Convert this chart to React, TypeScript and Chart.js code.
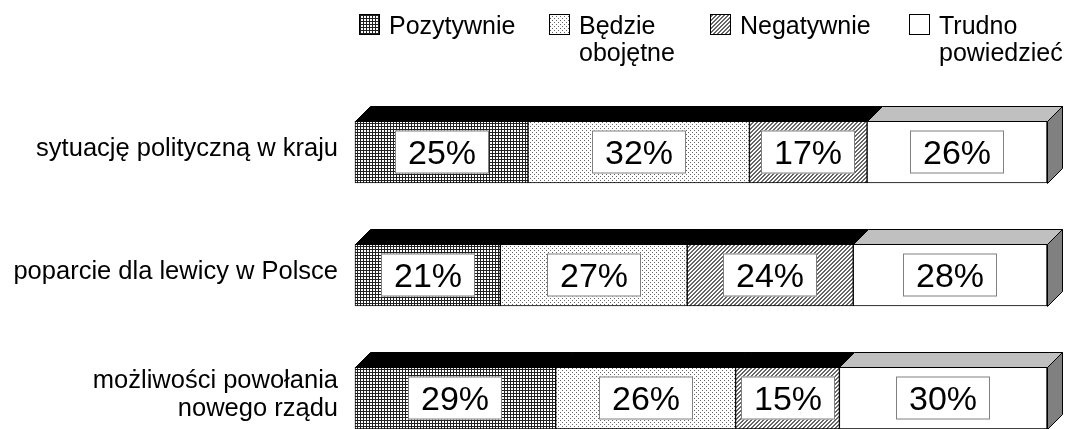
import React, { useEffect, useRef } from "react";
import { Chart, registerables } from "chart.js";

Chart.register(...registerables);

const categories: (string | string[])[] = [
  "sytuację polityczną w kraju",
  "poparcie dla lewicy w Polsce",
  ["możliwości powołania", "nowego rządu"],
];
const seriesNames = ["Pozytywnie", "Będzie\nobojętne", "Negatywnie", "Trudno\npowiedzieć"];
const pozytywnie = [25, 21, 29];
const obojetne = [32, 27, 26];
const negatywnie = [17, 24, 15];
const trudno = [26, 28, 30];

const FONT = "'Liberation Sans', Arial, sans-serif";
const DEPTH = 15;

function makePattern(kind: string): CanvasPattern | string {
  const c = document.createElement("canvas");
  const g = c.getContext("2d")!;
  if (kind === "grid") {
    c.width = 3; c.height = 3;
    g.fillStyle = "#fff"; g.fillRect(0, 0, 3, 3);
    g.fillStyle = "#222"; g.fillRect(0, 0, 3, 1); g.fillRect(0, 0, 1, 3);
  } else if (kind === "dots") {
    c.width = 4; c.height = 4;
    g.fillStyle = "#fff"; g.fillRect(0, 0, 4, 4);
    g.fillStyle = "#666"; g.fillRect(0, 0, 1, 1); g.fillRect(2, 2, 1, 1);
  } else if (kind === "diag") {
    c.width = 4; c.height = 4;
    g.fillStyle = "#fff"; g.fillRect(0, 0, 4, 4);
    g.fillStyle = "#666";
    for (let i = 0; i < 4; i++) { g.fillRect(i, 3 - i, 1, 1); g.fillRect(i, (6 - i) % 4, 1, 1); }
  } else {
    return "#ffffff";
  }
  return g.createPattern(c, "repeat")!;
}

const depthPlugin = {
  id: "depth3d",
  afterDatasetsDraw(chart: any) {
    const ctx = chart.ctx as CanvasRenderingContext2D;
    const n = chart.data.labels.length;
    const nds = chart.data.datasets.length;
    ctx.save();
    for (let i = 0; i < n; i++) {
      const bars = [] as any[];
      for (let d = 0; d < nds; d++) {
        const el = chart.getDatasetMeta(d).data[i];
        bars.push(el.getProps(["x", "y", "base", "height"], true));
      }
      for (let d = 0; d < nds; d++) {
        const b = bars[d];
        const top = Math.round(b.y - b.height / 2) + 0.5;
        const x0 = Math.round(b.base) + 0.5;
        const x1 = Math.round(b.x) + 0.5;
        ctx.beginPath();
        ctx.moveTo(x0, top);
        ctx.lineTo(x1, top);
        ctx.lineTo(x1 + DEPTH, top - DEPTH);
        ctx.lineTo(x0 + DEPTH, top - DEPTH);
        ctx.closePath();
        ctx.fillStyle = d < nds - 1 ? "#000000" : "#c0c0c0";
        ctx.fill();
        ctx.strokeStyle = "#000";
        ctx.lineWidth = 1;
        ctx.stroke();
      }
      const last = bars[nds - 1];
      const top = Math.round(last.y - last.height / 2) + 0.5;
      const bot = Math.round(last.y + last.height / 2) + 0.5;
      const xr = Math.round(last.x) + 0.5;
      ctx.beginPath();
      ctx.moveTo(xr, top);
      ctx.lineTo(xr + DEPTH, top - DEPTH);
      ctx.lineTo(xr + DEPTH, bot - DEPTH);
      ctx.lineTo(xr, bot);
      ctx.closePath();
      ctx.fillStyle = "#808080";
      ctx.fill();
      ctx.strokeStyle = "#000";
      ctx.stroke();
      for (let d = 0; d < nds; d++) {
        const b = bars[d];
        const v = chart.data.datasets[d].data[i];
        const cx = Math.round((b.base + b.x) / 2);
        const cy = Math.round(b.y);
        const w = 94, h = 43;
        ctx.fillStyle = "#fff";
        ctx.fillRect(cx - w / 2, cy - h / 2, w, h);
        ctx.strokeStyle = "#808080";
        ctx.strokeRect(cx - w / 2 + 0.5, cy - h / 2 + 0.5, w - 1, h - 1);
        ctx.fillStyle = "#000";
        ctx.font = `34px ${FONT}`;
        ctx.textAlign = "center";
        ctx.textBaseline = "alphabetic";
        ctx.fillText(`${v}%`, cx, cy + 12);
      }
    }
    ctx.restore();
  },
};

const legendPlugin = {
  id: "customLegend",
  afterDraw(chart: any) {
    const ctx = chart.ctx as CanvasRenderingContext2D;
    const boxX = [359, 549, 710, 909];
    ctx.save();
    chart.data.datasets.forEach((ds: any, k: number) => {
      const x = boxX[k];
      ctx.fillStyle = ds.backgroundColor;
      ctx.fillRect(x, 14, 21, 21);
      ctx.strokeStyle = "#000";
      ctx.lineWidth = 1;
      ctx.strokeRect(x + 0.5, 14.5, 20, 20);
      ctx.fillStyle = "#000";
      ctx.font = `25px ${FONT}`;
      ctx.textAlign = "left";
      ctx.textBaseline = "alphabetic";
      String(ds.label).split("\n").forEach((line: string, j: number) => {
        ctx.fillText(line, x + 30, 34 + j * 27);
      });
    });
    ctx.restore();
  },
};

export default function App() {
  const ref = useRef<HTMLCanvasElement | null>(null);
  useEffect(() => {
    document.body.style.margin = "0";
    const canvas = ref.current!;
    const values = [pozytywnie, obojetne, negatywnie, trudno];
    const fills = [makePattern("grid"), makePattern("dots"), makePattern("diag"), makePattern("none")];
    const chart = new Chart(canvas, {
      type: "bar",
      data: {
        labels: categories as any,
        datasets: values.map((vals, k) => ({
          label: seriesNames[k],
          data: vals,
          backgroundColor: fills[k] as any,
          borderColor: "#000",
          borderWidth: 1,
          borderSkipped: false,
          barThickness: 62,
          clip: false as any,
        })),
      },
      options: {
        indexAxis: "y",
        responsive: false,
        animation: false,
        events: [],
        devicePixelRatio: 1,
        layout: { padding: { top: 152, bottom: 27, right: 19, left: 0 } },
        plugins: { legend: { display: false }, tooltip: { enabled: false } },
        scales: {
          x: { stacked: true, min: 0, max: 100, display: false },
          y: {
            stacked: true,
            offset: false,
            grid: { display: false, drawTicks: false },
            border: { display: false },
            ticks: {
              padding: 17,
              labelOffset: -3,
              color: "#000",
              font: { family: FONT, size: 25.5, lineHeight: 1.1 },
            },
            afterFit: (scale: any) => { scale.width = 355; },
          },
        },
      },
      plugins: [depthPlugin, legendPlugin],
    });
    return () => chart.destroy();
  }, []);
  return (
    <div style={{ width: 1066, height: 429 }}>
      <canvas ref={ref} width={1066} height={429} />
    </div>
  );
}
